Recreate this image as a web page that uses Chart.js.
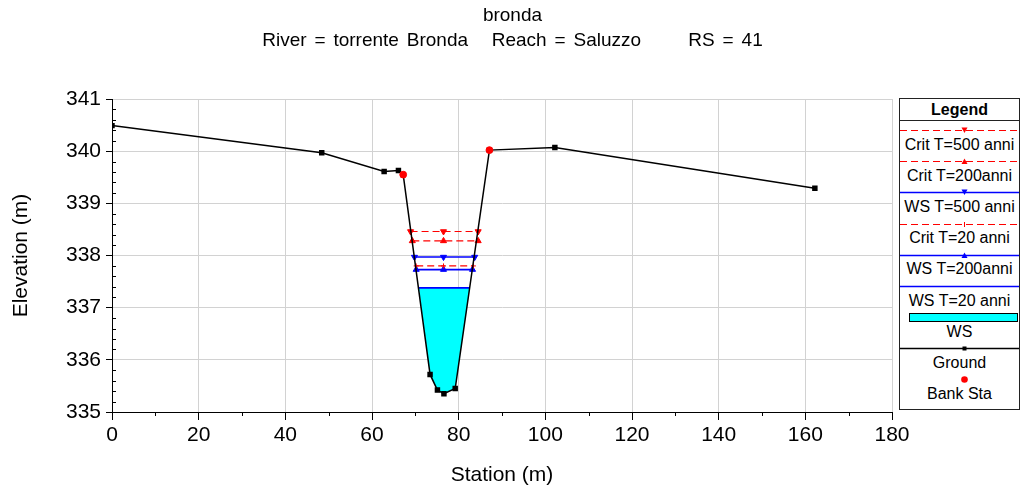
<!DOCTYPE html>
<html>
<head>
<meta charset="utf-8">
<script src="https://cdn.jsdelivr.net/npm/chart.js@4.4.1/dist/chart.umd.min.js"></script>
<style>
  body { margin: 0; background: #fff; width: 1021px; height: 490px; overflow: hidden; position: relative;
         font-family: "Liberation Sans", Arial, sans-serif; color: #000; }
  #chart { position: absolute; left: 0; top: 0; }
  .title { position: absolute; left: 2px; width: 1021px; text-align: center; font-size: 19px;
           line-height: 20px; white-space: pre; }
  #legend { position: absolute; left: 899px; top: 98px; width: 119px; height: 310px;
            border: 1px solid #222; background: #fff; }
  #legend .head { position: absolute; left: 0; top: 0; width: 119px; height: 21px; border-bottom: 1px solid #222;
                  font-weight: bold; font-size: 16px; line-height: 22px; text-align: center; }
  #legend .txt { position: absolute; left: 0; width: 119px; text-align: center; font-size: 16px;
                 line-height: 18px; white-space: pre; }
  #legend svg { position: absolute; left: 0; }
</style>
</head>
<body>
<canvas id="chart" width="1021" height="490"></canvas>
<div class="title" style="top:5px">bronda</div>
<div class="title" style="top:30px; word-spacing:2.6px">River = torrente Bronda   Reach = Saluzzo      RS = 41</div>
<div id="legend"><div class="head">Legend</div></div>
<script>
// ground profile (station m, elevation m)
const groundSta = [0, 48.4, 62.8, 66.1, 67.2, 73.4, 75.1, 76.6, 79.2, 87.1, 102.2, 162.2];
const groundElev = [340.49, 339.97, 339.61, 339.63, 339.55, 335.72, 335.42, 335.35, 335.45, 340.02, 340.07, 339.29];

// bank stations
const bankSta = [67.2, 87.1];
const bankElev = [339.55, 340.02];

// water surface / critical profiles: left edge, centre, right edge
const profileNames = ['Crit T=500 anni', 'Crit T=200anni', 'WS T=500 anni', 'Crit T=20 anni', 'WS T=200anni', 'WS T=20 anni'];
const profileElev = [338.46, 338.28, 337.97, 337.80, 337.73, 337.38];
const profileLeft = [68.9, 69.3, 69.8, 70.2, 70.2, 70.8];
const profileMid = [76.5, 76.5, 76.5, 76.5, 76.5, 76.5];
const profileRight = [84.5, 84.5, 83.7, 83.4, 83.2, 82.6];
const profileColor = ['#ff0000', '#ff0000', '#0000ff', '#ff0000', '#0000ff', '#0000ff'];
const profileMarker = ['down', 'up', 'down', 'cross', 'up', 'none'];

const xTicks = [0, 20, 40, 60, 80, 100, 120, 140, 160, 180];
const yTicks = [335, 336, 337, 338, 339, 340, 341];

const ground = groundSta.map((s, i) => ({x: s, y: groundElev[i]}));
const banks = bankSta.map((s, i) => ({x: s, y: bankElev[i]}));

// WS (T=20) wetted area: water edges plus the ground points under water
const wsElev = profileElev[5];
const wsArea = [{x: profileLeft[5], y: wsElev}]
  .concat(ground.filter(p => p.y < wsElev))
  .concat([{x: profileRight[5], y: wsElev}]);

function markerOpts(m) {
  if (m === 'down') return {pointStyle: 'triangle', rotation: 180, pointRadius: 3.5};
  if (m === 'up') return {pointStyle: 'triangle', rotation: 0, pointRadius: 3.5};
  if (m === 'cross') return {pointStyle: 'cross', rotation: 0, pointRadius: 2.5};
  return {pointRadius: 0};
}

const profileSets = profileNames.map((name, i) => {
  const red = profileColor[i] === '#ff0000';
  const m = markerOpts(profileMarker[i]);
  return {
    label: name,
    data: [profileLeft[i], profileMid[i], profileRight[i]].map(s => ({x: s, y: profileElev[i]})),
    borderColor: profileColor[i],
    backgroundColor: profileColor[i],
    borderWidth: red ? 1.2 : 1.6,
    borderDash: red ? [7, 4] : [],
    pointStyle: m.pointStyle || 'circle',
    rotation: m.rotation || 0,
    pointRadius: m.pointRadius,
    pointBorderWidth: 1,
    fill: false,
    order: 2
  };
});

const minorTicks = {
  id: 'minorTicks',
  afterDraw(chart) {
    const {ctx, scales: {x, y}} = chart;
    ctx.save();
    ctx.strokeStyle = '#000';
    ctx.lineWidth = 1;
    ctx.beginPath();
    for (let v = 10; v < 180; v += 20) {
      const px = Math.round(x.getPixelForValue(v)) + 0.5;
      ctx.moveTo(px, y.bottom);
      ctx.lineTo(px, y.bottom + 4);
    }
    for (let i = 1; i < 30; i++) {
      if (i % 5 === 0) continue;
      const py = Math.round(y.getPixelForValue(335 + i * 0.2)) + 0.5;
      ctx.moveTo(x.left, py);
      ctx.lineTo(x.left + 4, py);
    }
    ctx.stroke();
    ctx.restore();
  }
};

Chart.defaults.font.family = '"Liberation Sans", Arial, sans-serif';
Chart.defaults.color = '#000';

new Chart(document.getElementById('chart'), {
  type: 'line',
  data: {
    datasets: [
      {label: 'Bank Sta', data: banks, showLine: false, pointStyle: 'circle', pointRadius: 3.4,
       backgroundColor: '#ff0000', borderColor: '#ff0000', order: 0},
      {label: 'Ground', data: ground, borderColor: '#000', backgroundColor: '#000', borderWidth: 1.5,
       pointStyle: 'rect', pointRadius: 2.8, order: 1},
      ...profileSets,
      {label: 'WS', data: wsArea, borderColor: 'rgba(0,0,0,0)', borderWidth: 1, pointRadius: 0,
       backgroundColor: '#00ffff', fill: {target: {value: wsElev}}, order: 3}
    ]
  },
  options: {
    responsive: false,
    devicePixelRatio: 1,
    animation: false,
    layout: {padding: {left: 0, right: 129, top: 99, bottom: 0}},
    plugins: {legend: {display: false}, tooltip: {enabled: false}},
    scales: {
      x: {
        type: 'linear', min: 0, max: 180,
        afterBuildTicks: s => { s.ticks = xTicks.map(v => ({value: v})); },
        afterFit: s => { s.height = 78; },
        grid: {color: '#d2d2d2', tickColor: '#000', tickLength: 8},
        border: {color: '#000', width: 1},
        ticks: {font: {size: 21}, padding: 3, maxRotation: 0},
        title: {display: true, text: 'Station (m)', font: {size: 21}, padding: {top: 0, bottom: 2}}
      },
      y: {
        type: 'linear', min: 335, max: 341,
        afterBuildTicks: s => { s.ticks = yTicks.map(v => ({value: v})); },
        afterFit: s => { s.width = 112; },
        grid: {color: '#d2d2d2', tickColor: '#000', tickLength: 6},
        border: {color: '#000', width: 1},
        ticks: {font: {size: 21}, padding: 5},
        title: {display: true, text: 'Elevation (m)', font: {size: 21}, padding: {top: 9, bottom: 0}}
      }
    }
  },
  plugins: [minorTicks]
});

// legend box on the right
const legendRows = profileNames.map((n, i) => ({label: n, color: profileColor[i], dash: profileColor[i] === '#ff0000', marker: profileMarker[i]}))
  .concat([{label: 'WS', box: true}, {label: 'Ground', color: '#000', marker: 'square'}, {label: 'Bank Sta', marker: 'dot'}]);

const legend = document.getElementById('legend');
legendRows.forEach((r, i) => {
  const ly = 31.7 + 31.1 * i;
  let g = '';
  if (r.box) {
    g = '<rect x="9.5" y="1.5" width="108" height="8" fill="#00ffff" stroke="#000" stroke-width="1"/>';
  } else if (r.marker === 'dot') {
    g = '<circle cx="64.5" cy="5.5" r="3.3" fill="#ff0000"/>';
  } else {
    g = '<line x1="0" y1="5.5" x2="119" y2="5.5" stroke="' + r.color + '" stroke-width="' + (r.dash ? 1.2 : 1.6) + '"' +
        (r.dash ? ' stroke-dasharray="7 4"' : '') + '/>';
    if (r.marker === 'down') g += '<polygon points="61.5,2.5 67.5,2.5 64.5,8" fill="' + r.color + '"/>';
    if (r.marker === 'up') g += '<polygon points="61.5,8 67.5,8 64.5,2.5" fill="' + r.color + '"/>';
    if (r.marker === 'cross') g += '<line x1="64.5" y1="3" x2="64.5" y2="8" stroke="' + r.color + '"/>';
    if (r.marker === 'square') g += '<rect x="62.5" y="3.5" width="4" height="4" fill="#000"/>';
  }
  const svg = document.createElementNS('http://www.w3.org/2000/svg', 'svg');
  svg.setAttribute('width', '119');
  svg.setAttribute('height', '11');
  svg.style.top = Math.round(ly - 5.5) + 'px';
  svg.innerHTML = g;
  legend.appendChild(svg);
  const t = document.createElement('div');
  t.className = 'txt';
  t.style.top = (ly + 14.3 - 9) + 'px';
  t.textContent = r.label;
  legend.appendChild(t);
});
</script>
</body>
</html>
